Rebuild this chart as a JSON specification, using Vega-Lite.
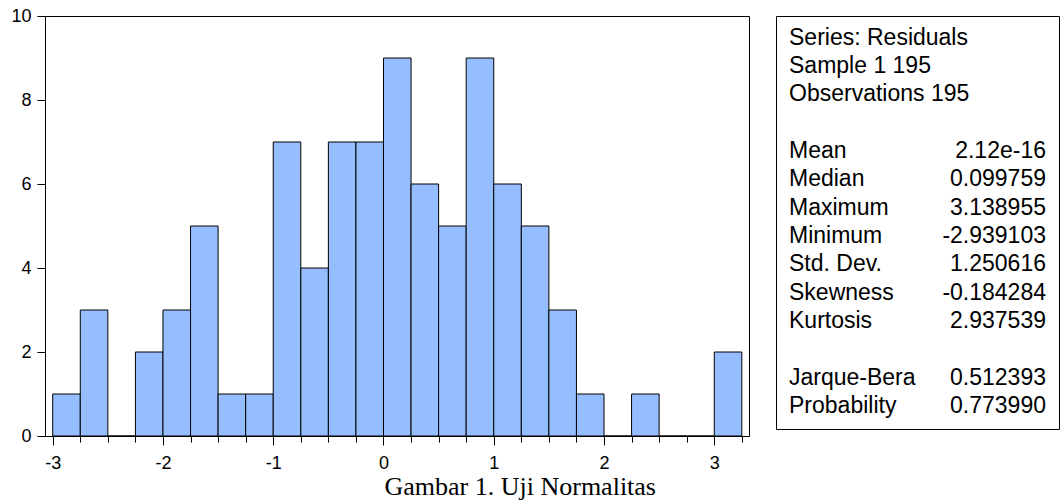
{
  "$schema": "https://vega.github.io/schema/vega-lite/v6.json",
  "padding": {"left": 10, "top": 6, "right": 0, "bottom": 0},
  "background": "white",
  "config": {
    "view": {"stroke": "#000", "strokeWidth": 1},
    "concat": {"spacing": 25},
    "font": "Liberation Sans"
  },
  "hconcat": [
    {
      "width": 704,
      "height": 420,
      "data": {
        "values": [
          {"bin_start": -3.0, "bin_end": -2.75, "count": 1},
          {"bin_start": -2.75, "bin_end": -2.5, "count": 3},
          {"bin_start": -2.5, "bin_end": -2.25, "count": 0},
          {"bin_start": -2.25, "bin_end": -2.0, "count": 2},
          {"bin_start": -2.0, "bin_end": -1.75, "count": 3},
          {"bin_start": -1.75, "bin_end": -1.5, "count": 5},
          {"bin_start": -1.5, "bin_end": -1.25, "count": 1},
          {"bin_start": -1.25, "bin_end": -1.0, "count": 1},
          {"bin_start": -1.0, "bin_end": -0.75, "count": 7},
          {"bin_start": -0.75, "bin_end": -0.5, "count": 4},
          {"bin_start": -0.5, "bin_end": -0.25, "count": 7},
          {"bin_start": -0.25, "bin_end": 0.0, "count": 7},
          {"bin_start": 0.0, "bin_end": 0.25, "count": 9},
          {"bin_start": 0.25, "bin_end": 0.5, "count": 6},
          {"bin_start": 0.5, "bin_end": 0.75, "count": 5},
          {"bin_start": 0.75, "bin_end": 1.0, "count": 9},
          {"bin_start": 1.0, "bin_end": 1.25, "count": 6},
          {"bin_start": 1.25, "bin_end": 1.5, "count": 5},
          {"bin_start": 1.5, "bin_end": 1.75, "count": 3},
          {"bin_start": 1.75, "bin_end": 2.0, "count": 1},
          {"bin_start": 2.0, "bin_end": 2.25, "count": 0},
          {"bin_start": 2.25, "bin_end": 2.5, "count": 1},
          {"bin_start": 2.5, "bin_end": 2.75, "count": 0},
          {"bin_start": 2.75, "bin_end": 3.0, "count": 0},
          {"bin_start": 3.0, "bin_end": 3.25, "count": 2}
        ]
      },
      "mark": {"type": "bar", "fill": "#96BEFF", "stroke": "#000", "strokeWidth": 1},
      "encoding": {
        "x": {
          "field": "bin_start",
          "type": "quantitative",
          "scale": {"domain": [-3.07, 3.315], "nice": false, "zero": false},
          "axis": {
            "values": [-3, -2.75, -2.5, -2.25, -2, -1.75, -1.5, -1.25, -1, -0.75, -0.5, -0.25, 0, 0.25, 0.5, 0.75, 1, 1.25, 1.5, 1.75, 2, 2.25, 2.5, 2.75, 3, 3.25],
            "labelExpr": "datum.value % 1 === 0 ? '' + datum.value : ''",
            "tickSize": {"condition": {"test": "datum.value % 1 === 0", "value": 9}, "value": 6},
            "labelPadding": 9,
            "labelFontSize": 18,
            "labelColor": "#000",
            "tickColor": "#000",
            "domain": false,
            "grid": false,
            "labelFlush": false,
            "labelOverlap": false,
            "title": "Gambar 1. Uji Normalitas",
            "titleFont": "Liberation Serif",
            "titleFontSize": 26,
            "titleFontWeight": "normal",
            "titleColor": "#000",
            "titleX": 339,
            "titleY": 58,
            "titleAlign": "left",
            "titleAnchor": "start",
            "titleBaseline": "alphabetic"
          }
        },
        "x2": {"field": "bin_end"},
        "y": {
          "field": "count",
          "type": "quantitative",
          "scale": {"domain": [0, 10], "nice": false},
          "axis": {
            "values": [0, 2, 4, 6, 8, 10],
            "tickSize": 8,
            "labelPadding": 6,
            "labelFontSize": 18,
            "labelColor": "#000",
            "tickColor": "#000",
            "domain": false,
            "grid": false,
            "labelFlush": false,
            "title": null
          }
        },
        "y2": {"datum": 0}
      }
    },
    {
      "width": 283,
      "height": 413,
      "data": {
        "values": [
          {"line": 0, "column": "label", "text": "Series: Residuals"},
          {"line": 1, "column": "label", "text": "Sample 1 195"},
          {"line": 2, "column": "label", "text": "Observations 195"},
          {"line": 4, "column": "label", "text": "Mean"},
          {"line": 4, "column": "value", "text": "2.12e-16"},
          {"line": 5, "column": "label", "text": "Median"},
          {"line": 5, "column": "value", "text": "0.099759"},
          {"line": 6, "column": "label", "text": "Maximum"},
          {"line": 6, "column": "value", "text": "3.138955"},
          {"line": 7, "column": "label", "text": "Minimum"},
          {"line": 7, "column": "value", "text": "-2.939103"},
          {"line": 8, "column": "label", "text": "Std. Dev."},
          {"line": 8, "column": "value", "text": "1.250616"},
          {"line": 9, "column": "label", "text": "Skewness"},
          {"line": 9, "column": "value", "text": "-0.184284"},
          {"line": 10, "column": "label", "text": "Kurtosis"},
          {"line": 10, "column": "value", "text": "2.937539"},
          {"line": 12, "column": "label", "text": "Jarque-Bera"},
          {"line": 12, "column": "value", "text": "0.512393"},
          {"line": 13, "column": "label", "text": "Probability"},
          {"line": 13, "column": "value", "text": "0.773990"}
        ]
      },
      "encoding": {
        "x": {"field": "column", "type": "nominal", "scale": {"type": "point", "domain": ["label", "value"], "padding": 0.0506}, "axis": null},
        "y": {"field": "line", "type": "quantitative", "scale": {"domain": [-0.766, 13.812], "reverse": true, "nice": false, "zero": false}, "axis": null},
        "text": {"field": "text"}
      },
      "layer": [
        {
          "transform": [{"filter": "datum.column === 'label'"}],
          "mark": {"type": "text", "align": "left", "baseline": "middle", "fontSize": 23, "font": "Liberation Sans", "color": "#000"}
        },
        {
          "transform": [{"filter": "datum.column === 'value'"}],
          "mark": {"type": "text", "align": "right", "baseline": "middle", "fontSize": 23, "font": "Liberation Sans", "color": "#000"}
        }
      ]
    }
  ]
}
